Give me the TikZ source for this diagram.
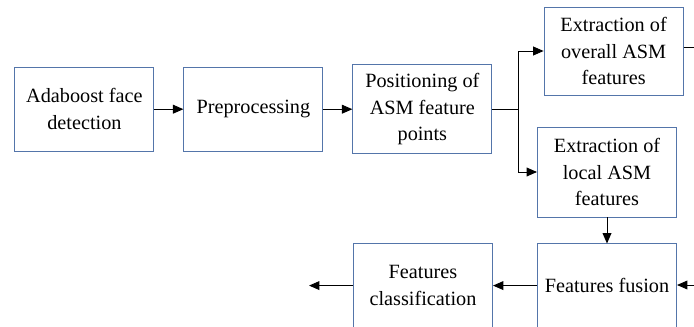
\documentclass[tikz,border=0pt]{standalone}
\usepackage{xcolor}
\usepackage{fontspec}
\setmainfont{Liberation Serif}
\usepackage{tikz}
\usetikzlibrary{positioning,arrows.meta}

\definecolor{boxblue}{RGB}{84,117,170}

\begin{document}
\begin{tikzpicture}[
    box/.style={draw=boxblue, line width=0.7pt, minimum width=3.475cm, minimum height=2.15cm,
      align=center, inner sep=0pt, font=\fontsize{14.4}{19}\selectfont},
    arr/.style={line width=0.7pt, -{Triangle[length=2.6mm,width=2.2mm]}},
    ln/.style={line width=0.7pt}
  ]
    \useasboundingbox (0,0) rectangle (17.35,-8.175);

    \node[box, minimum height=2.1cm] (ada) at (2.11,-2.73) {Adaboost face\\detection};
    \node[box, minimum height=2.1cm, right=0.725cm of ada] (pre) {Preprocessing};
    \node[box, minimum height=2.22cm, right=0.725cm of pre] (pos) {Positioning of\\ASM feature\\points};

    \node[box, minimum height=2.2cm] (overall) at (15.34,-1.275) {Extraction of\\overall ASM\\features};
    \node[box, minimum height=2.25cm] (local) at (15.175,-4.3) {Extraction of\\local ASM\\features};
    \node[box, minimum height=2.08cm, below=0.65cm of local] (fusion) {Features fusion};
    \node[box, minimum height=2.08cm, left=1.1cm of fusion] (class) {Features\\classification};

    \coordinate[right=0.65cm of pos.east] (split);
    \coordinate (outover) at (17.35,-1.175);
    \coordinate (infus) at (17.35,-7.125);
    \coordinate[left=1.1cm of class.west] (outcls);

    \draw[arr] (ada) -- (pre);
    \draw[arr] (pre) -- (pos);
    \draw[ln] (pos) -- (split);
    \draw[arr] (split) |- (overall);
    \draw[arr] (split) |- (local);
    \draw[ln] (overall.east |- outover) -- (outover);
    \draw[arr] (local) -- (fusion);
    \draw[arr] (infus) -- (fusion.east |- infus);
    \draw[arr] (fusion) -- (class);
    \draw[arr] (class) -- (outcls);
\end{tikzpicture}
\end{document}
